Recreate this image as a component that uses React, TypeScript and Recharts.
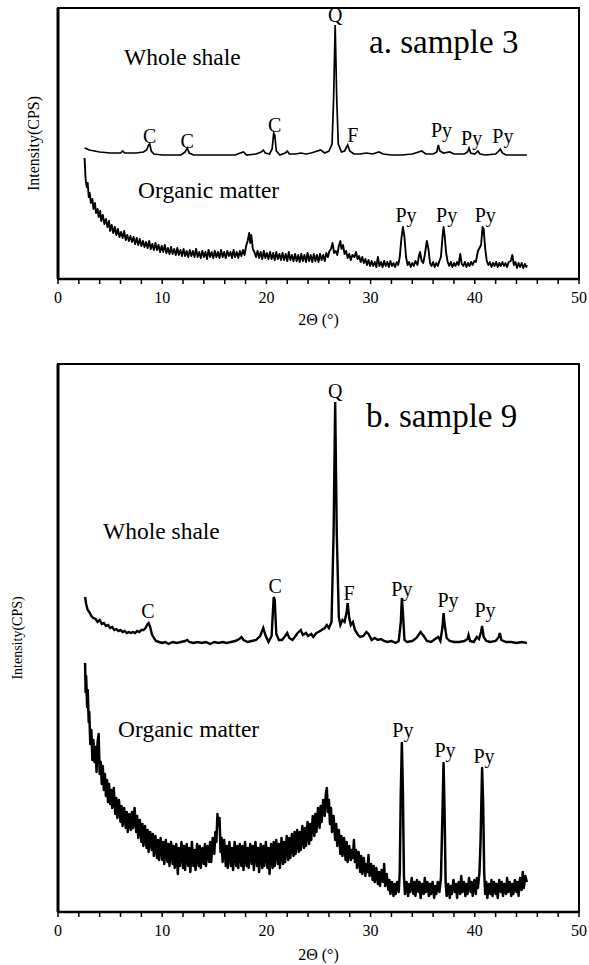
import React from 'react';
import { LineChart, Line, XAxis, YAxis, ReferenceArea, ReferenceDot } from 'recharts';

type Pt = [number, number];

const FONT = "'Liberation Serif', 'DejaVu Serif', 'Times New Roman', serif";

// 2θ axis, minor tick every 2°, labels every 10°
const xTicks = [0, 2, 4, 6, 8, 10, 12, 14, 16, 18, 20, 22, 24, 26, 28, 30, 32, 34, 36, 38, 40, 42, 44, 46, 48, 50];

// ---- a. sample 3 (intensity, arbitrary units) ----
const wholeA: Pt[] = [
  [2.55, 131], [3.0, 129], [3.5, 128], [4.0, 127], [5.0, 126], [6.0, 126], [6.2, 128], [6.4, 126],
  [7.5, 126], [8.2, 127], [8.5, 129], [8.7, 134], [8.8, 135], [8.95, 128], [9.2, 125], [10.0, 124],
  [11.0, 124], [11.8, 124], [12.2, 127], [12.4, 131], [12.6, 126], [13.0, 124], [14.0, 124], [15.0, 124],
  [16.0, 124], [17.0, 124], [17.5, 126], [17.8, 127], [18.1, 124], [19.0, 125], [19.5, 127], [19.7, 129],
  [19.9, 126], [20.3, 125], [20.55, 130], [20.7, 146], [20.8, 144], [20.95, 128], [21.3, 124], [21.8, 126],
  [22.0, 128], [22.2, 125], [22.8, 125], [23.3, 126], [23.8, 125], [24.3, 126], [24.9, 128], [25.2, 129],
  [25.6, 126], [26.0, 128], [26.3, 135], [26.45, 180], [26.6, 254], [26.75, 180], [26.9, 135], [27.2, 127],
  [27.5, 128], [27.8, 134], [28.0, 128], [28.4, 125], [29.0, 125], [29.6, 126], [30.2, 125], [30.8, 127],
  [31.2, 125], [32.0, 124], [33.0, 124], [34.0, 125], [34.6, 127], [34.9, 128], [35.3, 125], [36.0, 125],
  [36.35, 127], [36.5, 134], [36.65, 128], [37.0, 126], [37.6, 127], [38.0, 125], [39.0, 125], [39.3, 127],
  [39.45, 131], [39.6, 126], [40.0, 125], [40.3, 128], [40.5, 125], [41.0, 124], [42.0, 125], [42.3, 128],
  [42.45, 130], [42.65, 126], [43.0, 124], [44.0, 124], [45.0, 124],
];

const organicA: Pt[] = [
  [2.55, 121], [2.65, 100], [2.75, 92], [2.85, 96], [2.95, 82], [3.05, 86], [3.15, 76], [3.3, 80],
  [3.4, 70], [3.55, 76], [3.65, 66], [3.8, 70], [3.9, 62], [4.05, 68], [4.15, 58], [4.3, 64],
  [4.45, 55], [4.6, 60], [4.75, 52], [4.9, 58], [5.0, 48], [5.15, 54], [5.3, 46], [5.45, 52],
  [5.6, 44], [5.75, 50], [5.9, 42], [6.05, 47], [6.2, 41], [6.35, 48], [6.5, 39], [6.65, 44],
  [6.8, 38], [6.95, 43], [7.1, 37], [7.25, 42], [7.4, 35], [7.55, 41], [7.7, 34], [7.85, 40],
  [8.0, 33], [8.15, 38], [8.3, 32], [8.45, 37], [8.6, 31], [8.75, 38], [8.9, 30], [9.05, 35],
  [9.2, 29], [9.35, 36], [9.5, 29], [9.65, 34], [9.8, 27], [9.95, 33], [10.1, 27], [10.25, 34],
  [10.4, 26], [10.55, 31], [10.7, 25], [10.85, 32], [11.0, 25], [11.15, 30], [11.3, 24], [11.45, 31],
  [11.6, 24], [11.75, 29], [11.9, 23], [12.05, 30], [12.2, 23], [12.35, 28], [12.5, 22], [12.65, 29],
  [12.8, 23], [12.95, 28], [13.1, 22], [13.25, 30], [13.4, 22], [13.55, 27], [13.7, 21], [13.85, 28],
  [14.0, 22], [14.15, 27], [14.3, 20], [14.45, 29], [14.6, 22], [14.75, 27], [14.9, 21], [15.05, 28],
  [15.2, 22], [15.35, 27], [15.5, 21], [15.65, 29], [15.8, 22], [15.95, 27], [16.1, 21], [16.25, 28],
  [16.4, 23], [16.55, 27], [16.7, 21], [16.85, 29], [17.0, 22], [17.15, 27], [17.3, 21], [17.45, 28],
  [17.6, 23], [17.75, 29], [17.9, 24], [18.05, 33], [18.2, 38], [18.35, 46], [18.45, 36], [18.55, 44],
  [18.7, 30], [18.85, 27], [19.0, 22], [19.15, 28], [19.3, 21], [19.45, 27], [19.6, 20], [19.75, 28],
  [19.9, 21], [20.05, 26], [20.2, 20], [20.35, 27], [20.5, 20], [20.65, 26], [20.8, 19], [20.95, 27],
  [21.1, 20], [21.25, 25], [21.4, 19], [21.55, 26], [21.7, 19], [21.85, 25], [22.0, 18], [22.15, 27],
  [22.3, 19], [22.45, 24], [22.6, 18], [22.75, 25], [22.9, 18], [23.05, 24], [23.2, 17], [23.35, 25],
  [23.5, 18], [23.65, 24], [23.8, 17], [23.95, 26], [24.1, 18], [24.25, 24], [24.4, 17], [24.55, 25],
  [24.7, 18], [24.85, 24], [25.0, 17], [25.15, 25], [25.3, 19], [25.45, 24], [25.6, 18], [25.75, 26],
  [25.9, 22], [26.05, 28], [26.2, 30], [26.35, 36], [26.5, 26], [26.65, 28], [26.8, 24], [26.95, 33],
  [27.1, 38], [27.2, 30], [27.35, 34], [27.5, 25], [27.65, 28], [27.8, 21], [27.95, 25], [28.1, 19],
  [28.25, 24], [28.45, 22], [28.6, 27], [28.75, 20], [28.9, 23], [29.05, 17], [29.2, 22], [29.35, 16],
  [29.5, 20], [29.65, 14], [29.8, 19], [29.95, 13], [30.1, 18], [30.25, 13], [30.4, 17], [30.55, 12],
  [30.7, 22], [30.85, 13], [31.0, 17], [31.15, 12], [31.3, 18], [31.45, 13], [31.6, 17], [31.75, 12],
  [31.9, 18], [32.05, 13], [32.2, 16], [32.35, 12], [32.5, 17], [32.65, 14], [32.8, 22], [32.95, 40],
  [33.1, 52], [33.25, 42], [33.4, 22], [33.55, 14], [33.7, 17], [33.85, 12], [34.0, 16], [34.15, 13],
  [34.3, 18], [34.5, 14], [34.65, 24], [34.75, 27], [34.9, 18], [35.05, 16], [35.2, 24], [35.4, 38],
  [35.55, 30], [35.7, 16], [35.85, 13], [36.0, 17], [36.15, 12], [36.3, 16], [36.45, 13], [36.6, 18],
  [36.75, 22], [36.9, 42], [37.0, 52], [37.1, 44], [37.25, 26], [37.4, 17], [37.55, 13], [37.7, 17],
  [37.85, 12], [38.0, 16], [38.15, 13], [38.3, 17], [38.45, 14], [38.6, 25], [38.75, 15], [38.9, 13],
  [39.05, 17], [39.2, 12], [39.35, 16], [39.5, 13], [39.65, 17], [39.8, 14], [39.95, 18], [40.1, 17],
  [40.3, 28], [40.45, 31], [40.6, 34], [40.75, 52], [40.85, 50], [41.0, 30], [41.15, 18], [41.3, 14],
  [41.45, 17], [41.6, 12], [41.75, 16], [41.9, 13], [42.05, 17], [42.2, 12], [42.35, 16], [42.5, 13],
  [42.65, 17], [42.8, 13], [42.95, 16], [43.1, 12], [43.25, 17], [43.45, 18], [43.6, 24], [43.75, 14],
  [43.9, 17], [44.05, 11], [44.2, 16], [44.35, 12], [44.5, 16], [44.65, 11], [44.8, 15], [44.95, 12],
  [45.0, 14],
];

const peaksA = [
  { text: 'C', x: 8.8, y: 136 },
  { text: 'C', x: 12.4, y: 131 },
  { text: 'C', x: 20.8, y: 147 },
  { text: 'Q', x: 26.6, y: 257 },
  { text: 'F', x: 28.3, y: 137 },
  { text: 'Py', x: 36.8, y: 142 },
  { text: 'Py', x: 39.7, y: 134 },
  { text: 'Py', x: 42.7, y: 136 },
  { text: 'Py', x: 33.4, y: 57 },
  { text: 'Py', x: 37.3, y: 57 },
  { text: 'Py', x: 41.0, y: 57 },
];
const captionsA = [
  { text: 'Whole shale', x: 6.33, y: 214 },
  { text: 'Organic matter', x: 7.68, y: 81 },
];
const titleA = { text: 'a. sample 3', x: 29.85, y: 226 };

// ---- b. sample 9 ----
const wholeB: Pt[] = [
  [2.6, 315], [2.7, 308], [2.85, 302], [3.0, 300], [3.2, 296], [3.4, 294], [3.6, 293], [3.8, 290],
  [4.0, 292], [4.2, 288], [4.4, 289], [4.6, 286], [4.8, 287], [5.0, 284], [5.2, 285], [5.4, 282],
  [5.6, 283], [5.8, 281], [6.0, 282], [6.2, 280], [6.4, 281], [6.6, 279], [6.8, 280], [7.0, 279],
  [7.2, 280], [7.4, 279], [7.6, 281], [7.8, 280], [8.0, 282], [8.2, 282], [8.4, 284], [8.6, 288],
  [8.7, 289], [8.85, 285], [9.0, 278], [9.2, 274], [9.4, 271], [9.7, 270], [10.0, 269], [10.3, 270],
  [10.6, 268], [11.0, 270], [11.4, 269], [11.8, 270], [12.2, 271], [12.4, 272], [12.6, 270], [13.0, 269],
  [13.4, 270], [13.8, 269], [14.2, 270], [14.6, 268], [15.0, 270], [15.4, 269], [15.8, 270], [16.2, 269],
  [16.6, 270], [17.0, 271], [17.4, 273], [17.6, 275], [17.8, 272], [18.2, 270], [18.6, 271], [19.0, 272],
  [19.4, 276], [19.7, 284], [19.9, 277], [20.2, 270], [20.5, 276], [20.7, 315], [20.8, 312], [20.95, 278],
  [21.2, 272], [21.5, 272], [21.8, 276], [22.0, 279], [22.2, 274], [22.5, 272], [22.8, 276], [23.0, 279],
  [23.3, 282], [23.5, 277], [23.8, 279], [24.0, 276], [24.3, 278], [24.5, 275], [24.8, 279], [25.0, 280],
  [25.3, 282], [25.6, 284], [25.8, 287], [26.0, 284], [26.25, 290], [26.45, 380], [26.6, 510], [26.75, 380],
  [26.95, 295], [27.1, 287], [27.3, 292], [27.5, 290], [27.7, 300], [27.8, 309], [27.95, 294], [28.1, 287],
  [28.3, 290], [28.5, 282], [28.8, 277], [29.0, 275], [29.3, 276], [29.6, 280], [29.8, 278], [30.1, 272],
  [30.4, 274], [30.7, 272], [31.0, 273], [31.3, 271], [31.6, 270], [32.0, 271], [32.4, 269], [32.7, 271],
  [32.9, 290], [33.0, 314], [33.1, 300], [33.25, 272], [33.5, 270], [34.0, 271], [34.4, 274], [34.8, 280],
  [35.1, 276], [35.4, 271], [35.8, 270], [36.2, 273], [36.5, 275], [36.7, 271], [36.9, 285], [37.0, 299],
  [37.1, 288], [37.3, 274], [37.6, 271], [38.0, 270], [38.5, 270], [39.0, 271], [39.3, 273], [39.4, 277],
  [39.55, 271], [39.9, 270], [40.2, 275], [40.4, 273], [40.6, 280], [40.7, 286], [40.85, 275], [41.1, 271],
  [41.5, 270], [42.0, 271], [42.3, 275], [42.4, 279], [42.55, 272], [43.0, 270], [43.5, 270], [44.0, 269],
  [44.5, 270], [45.0, 269],
];

const organicB: Pt[] = [
  [2.6, 249], [2.65, 220], [2.7, 236], [2.8, 205], [2.85, 222], [2.95, 190], [3.0, 200], [3.1, 168],
  [3.2, 182], [3.3, 152], [3.4, 172], [3.5, 150], [3.6, 165], [3.7, 140], [3.8, 170], [3.9, 178],
  [4.0, 138], [4.1, 150], [4.2, 128], [4.3, 146], [4.4, 122], [4.5, 138], [4.6, 116], [4.7, 132],
  [4.8, 110], [4.9, 128], [5.0, 108], [5.1, 122], [5.2, 104], [5.35, 124], [5.5, 98], [5.6, 114],
  [5.7, 94], [5.85, 112], [6.0, 90], [6.1, 106], [6.2, 86], [6.35, 104], [6.5, 84], [6.6, 100],
  [6.7, 80], [6.85, 98], [7.0, 82], [7.1, 100], [7.2, 84], [7.35, 104], [7.5, 80], [7.6, 96],
  [7.7, 74], [7.85, 92], [8.0, 70], [8.1, 88], [8.2, 66], [8.35, 86], [8.5, 64], [8.6, 82],
  [8.7, 60], [8.85, 80], [9.0, 62], [9.1, 78], [9.2, 56], [9.35, 76], [9.5, 54], [9.6, 72],
  [9.7, 52], [9.85, 74], [10.0, 52], [10.1, 70], [10.2, 48], [10.35, 72], [10.5, 50], [10.6, 68],
  [10.7, 46], [10.85, 70], [11.0, 48], [11.1, 66], [11.2, 44], [11.35, 68], [11.5, 38], [11.6, 64],
  [11.7, 46], [11.85, 70], [12.0, 44], [12.1, 66], [12.2, 42], [12.35, 68], [12.5, 46], [12.6, 64],
  [12.7, 40], [12.85, 70], [13.0, 46], [13.1, 62], [13.2, 42], [13.35, 68], [13.5, 46], [13.6, 66],
  [13.7, 44], [13.85, 64], [14.0, 48], [14.1, 68], [14.2, 46], [14.35, 66], [14.5, 50], [14.6, 70],
  [14.7, 50], [14.85, 74], [15.0, 58], [15.1, 80], [15.2, 70], [15.3, 98], [15.4, 86], [15.5, 94],
  [15.6, 60], [15.7, 74], [15.8, 50], [15.95, 72], [16.1, 46], [16.2, 66], [16.3, 44], [16.45, 70],
  [16.6, 46], [16.7, 64], [16.8, 42], [16.95, 70], [17.1, 46], [17.2, 66], [17.3, 44], [17.45, 68],
  [17.6, 46], [17.7, 66], [17.8, 42], [17.95, 70], [18.1, 46], [18.2, 64], [18.3, 44], [18.45, 68],
  [18.6, 48], [18.7, 66], [18.8, 42], [18.95, 70], [19.1, 46], [19.2, 64], [19.3, 40], [19.45, 68],
  [19.6, 44], [19.7, 66], [19.8, 46], [19.95, 70], [20.1, 44], [20.2, 64], [20.3, 38], [20.45, 68],
  [20.6, 44], [20.7, 70], [20.8, 46], [20.95, 72], [21.1, 48], [21.2, 68], [21.3, 44], [21.45, 74],
  [21.6, 48], [21.7, 70], [21.8, 50], [21.95, 76], [22.1, 52], [22.2, 74], [22.3, 54], [22.45, 78],
  [22.6, 56], [22.7, 80], [22.8, 58], [22.95, 82], [23.1, 60], [23.2, 80], [23.3, 62], [23.45, 86],
  [23.6, 64], [23.7, 84], [23.8, 66], [23.95, 90], [24.1, 68], [24.2, 88], [24.3, 72], [24.45, 96],
  [24.6, 76], [24.7, 98], [24.8, 80], [24.95, 104], [25.1, 84], [25.2, 106], [25.3, 90], [25.45, 112],
  [25.6, 96], [25.7, 118], [25.8, 124], [25.9, 100], [26.0, 112], [26.1, 88], [26.2, 104], [26.3, 80],
  [26.45, 96], [26.6, 72], [26.7, 88], [26.8, 66], [26.95, 82], [27.1, 58], [27.2, 76], [27.3, 56],
  [27.45, 74], [27.6, 52], [27.7, 70], [27.8, 50], [27.95, 66], [28.1, 52], [28.2, 62], [28.3, 54],
  [28.4, 72], [28.5, 50], [28.6, 62], [28.7, 44], [28.85, 60], [29.0, 40], [29.1, 56], [29.2, 38],
  [29.35, 54], [29.5, 36], [29.6, 48], [29.7, 40], [29.8, 57], [29.9, 36], [30.05, 48], [30.2, 32],
  [30.3, 46], [30.4, 30], [30.55, 44], [30.7, 28], [30.8, 40], [30.9, 26], [31.05, 42], [31.2, 30],
  [31.3, 48], [31.4, 26], [31.55, 38], [31.7, 22], [31.8, 32], [31.9, 18], [32.05, 30], [32.2, 16],
  [32.3, 28], [32.4, 18], [32.55, 30], [32.7, 20], [32.8, 40], [32.9, 120], [33.0, 169], [33.1, 120],
  [33.2, 36], [33.3, 18], [33.45, 30], [33.6, 16], [33.7, 28], [33.8, 20], [33.95, 34], [34.1, 18],
  [34.2, 30], [34.3, 16], [34.45, 32], [34.6, 20], [34.7, 30], [34.8, 14], [34.95, 28], [35.1, 18],
  [35.2, 34], [35.3, 20], [35.45, 30], [35.6, 16], [35.7, 28], [35.8, 18], [35.95, 30], [36.1, 14],
  [36.2, 26], [36.3, 18], [36.45, 30], [36.6, 20], [36.75, 34], [36.9, 100], [37.0, 149], [37.1, 100],
  [37.2, 30], [37.3, 16], [37.45, 28], [37.6, 14], [37.7, 26], [37.8, 18], [37.95, 32], [38.1, 20],
  [38.2, 28], [38.3, 14], [38.45, 30], [38.6, 18], [38.7, 36], [38.8, 20], [38.95, 30], [39.1, 16],
  [39.2, 28], [39.3, 18], [39.45, 34], [39.6, 20], [39.7, 30], [39.8, 16], [39.95, 32], [40.1, 18],
  [40.2, 34], [40.3, 24], [40.45, 40], [40.55, 70], [40.7, 144], [40.8, 110], [40.9, 40], [41.0, 18],
  [41.1, 30], [41.2, 14], [41.35, 28], [41.5, 18], [41.6, 32], [41.7, 16], [41.85, 30], [42.0, 18],
  [42.1, 28], [42.2, 14], [42.35, 32], [42.5, 20], [42.6, 30], [42.7, 16], [42.85, 28], [43.0, 18],
  [43.1, 34], [43.2, 20], [43.35, 30], [43.5, 16], [43.6, 28], [43.7, 18], [43.85, 32], [44.0, 20],
  [44.1, 30], [44.2, 16], [44.35, 34], [44.5, 22], [44.6, 40], [44.7, 24], [44.85, 36], [45.0, 30],
];

const peaksB = [
  { text: 'C', x: 8.64, y: 294 },
  { text: 'C', x: 20.83, y: 319 },
  { text: 'Q', x: 26.6, y: 514 },
  { text: 'F', x: 27.93, y: 312 },
  { text: 'Py', x: 33.0, y: 316 },
  { text: 'Py', x: 37.43, y: 305 },
  { text: 'Py', x: 40.98, y: 295 },
  { text: 'Py', x: 33.1, y: 175 },
  { text: 'Py', x: 37.14, y: 155 },
  { text: 'Py', x: 40.88, y: 149 },
];
const captionsB = [
  { text: 'Whole shale', x: 4.32, y: 373 },
  { text: 'Organic matter', x: 5.76, y: 175 },
];
const titleB = { text: 'b. sample 9', x: 29.56, y: 485 };

const toRows = (pts: Pt[]) => pts.map(([x, y]) => ({ x, y }));

const XTick = (props: any) => {
  const { x, y, payload } = props;
  if (payload.value % 10 !== 0) return <g />;
  return (
    <text x={x} y={y + 19} textAnchor="middle" fontSize={16} fontFamily={FONT} fill="#000">
      {payload.value}
    </text>
  );
};

const textShape = (text: string, size: number, anchor: 'start' | 'middle') => (p: any) => (
  <text x={p.cx} y={p.cy} textAnchor={anchor} fontSize={size} fontFamily={FONT} fill="#000">
    {text}
  </text>
);

interface PanelProps {
  top: number;
  height: number;
  marginTop: number;
  axisHeight: number;
  yMax: number;
  whole: Pt[];
  organic: Pt[];
  wholeWidth: number;
  organicWidth: number;
  peaks: { text: string; x: number; y: number }[];
  captions: { text: string; x: number; y: number }[];
  title: { text: string; x: number; y: number };
  yLabelX: number;
  yLabelSize: number;
  xLabelDy: number;
}

const Panel: React.FC<PanelProps> = (p) => (
  <div style={{ position: 'absolute', left: 0, top: p.top }}>
    <LineChart width={589} height={p.height} margin={{ top: p.marginTop, right: 10, bottom: 0, left: 0 }}>
      <XAxis
        type="number"
        dataKey="x"
        domain={[0, 50]}
        ticks={xTicks}
        interval={0}
        allowDataOverflow
        height={p.axisHeight}
        tickSize={5}
        tickMargin={0}
        tick={<XTick />}
        axisLine={{ stroke: '#000', strokeWidth: 2.5 }}
        tickLine={{ stroke: '#000', strokeWidth: 1.5 }}
        label={(lp: any) => (
          <text
            x={lp.viewBox.x + lp.viewBox.width / 2}
            y={lp.viewBox.y + p.xLabelDy}
            textAnchor="middle"
            fontSize={16}
            fontFamily={FONT}
            fill="#000"
          >
            2Θ (°)
          </text>
        )}
      />
      <YAxis
        type="number"
        domain={[0, p.yMax]}
        allowDataOverflow
        width={58}
        tick={false}
        tickLine={false}
        axisLine={{ stroke: '#000', strokeWidth: 3 }}
        label={(lp: any) => {
          const cx = lp.viewBox.x + p.yLabelX;
          const cy = lp.viewBox.y + lp.viewBox.height / 2;
          return (
            <text
              x={cx}
              y={cy}
              transform={`rotate(-90 ${cx} ${cy})`}
              textAnchor="middle"
              dominantBaseline="central"
              fontSize={p.yLabelSize}
              fontFamily={FONT}
              fill="#000"
            >
              Intensity(CPS)
            </text>
          );
        }}
      />
      <ReferenceArea x1={0} x2={50} y1={0} y2={p.yMax} fill="none" stroke="#000" strokeWidth={2} fillOpacity={0} />
      <Line
        data={toRows(p.whole)}
        dataKey="y"
        type="linear"
        stroke="#000"
        strokeWidth={p.wholeWidth}
        dot={false}
        activeDot={false}
        isAnimationActive={false}
      />
      <Line
        data={toRows(p.organic)}
        dataKey="y"
        type="linear"
        stroke="#000"
        strokeWidth={p.organicWidth}
        strokeLinejoin="round"
        dot={false}
        activeDot={false}
        isAnimationActive={false}
      />
      {p.peaks.map((l, i) => (
        <ReferenceDot key={'p' + i} x={l.x} y={l.y} r={1} shape={textShape(l.text, 20, 'middle')} />
      ))}
      {p.captions.map((l, i) => (
        <ReferenceDot key={'c' + i} x={l.x} y={l.y} r={1} shape={textShape(l.text, 23.5, 'start')} />
      ))}
      <ReferenceDot x={p.title.x} y={p.title.y} r={1} shape={textShape(p.title.text, 33, 'start')} />
    </LineChart>
  </div>
);

export default function App() {
  return (
    <div style={{ position: 'absolute', left: 0, top: 0, width: 589, height: 965, background: '#fff' }}>
      <Panel
        top={0}
        height={340}
        marginTop={8}
        axisHeight={61}
        yMax={271}
        whole={wholeA}
        organic={organicA}
        wholeWidth={1.7}
        organicWidth={1.9}
        peaks={peaksA}
        captions={captionsA}
        title={titleA}
        yLabelX={33}
        yLabelSize={16}
        xLabelDy={46}
      />
      <Panel
        top={340}
        height={625}
        marginTop={24}
        axisHeight={53}
        yMax={548}
        whole={wholeB}
        organic={organicB}
        wholeWidth={2.4}
        organicWidth={2.5}
        peaks={peaksB}
        captions={captionsB}
        title={titleB}
        yLabelX={17}
        yLabelSize={14}
        xLabelDy={48}
      />
    </div>
  );
}
